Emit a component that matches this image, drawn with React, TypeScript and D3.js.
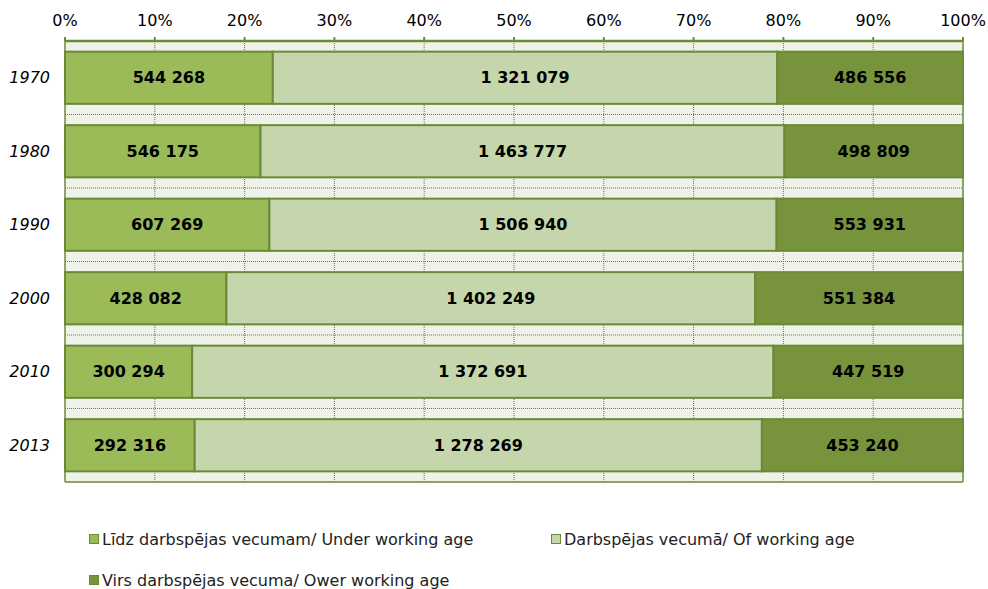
import React from "react";
import * as d3 from "d3";

// Chart data
const years = ["1970", "1980", "1990", "2000", "2010", "2013"];
const underAge = [544268, 546175, 607269, 428082, 300294, 292316];
const workingAge = [1321079, 1463777, 1506940, 1402249, 1372691, 1278269];
const overAge = [486556, 498809, 553931, 551384, 447519, 453240];
const seriesNames = [
  "Līdz darbspējas vecumam/ Under working age",
  "Darbspējas vecumā/ Of working age",
  "Virs darbspējas vecuma/ Ower working age",
];
const seriesColors = ["#9bbb59", "#c5d6ac", "#77933c"];
const tickValues = [0, 0.1, 0.2, 0.3, 0.4, 0.5, 0.6, 0.7, 0.8, 0.9, 1];

const width = 988;
const height = 589;
const margin = { top: 41, right: 25, bottom: 107, left: 65 };
const font = "'DejaVu Sans', Verdana, sans-serif";
const edge = "#6b8a37";

const fmt = (v: number) => d3.format(",")(v).replace(/,/g, " ");

const App: React.FC = () => {
  const plotW = width - margin.left - margin.right;
  const plotH = height - margin.top - margin.bottom;

  const x = d3.scaleLinear().domain([0, 1]).range([0, plotW]);
  const y = d3.scaleBand<string>().domain(years).range([0, plotH]).paddingInner(0.29).paddingOuter(0.145);
  const band = d3.scaleBand<string>().domain(years).range([0, plotH]);

  const rows = years.map((yr, i) => {
    const vals = [underAge[i], workingAge[i], overAge[i]];
    const total = d3.sum(vals);
    let acc = 0;
    const segs = vals.map((v, k) => {
      const x0 = acc / total;
      acc += v;
      return { k, v, x0, x1: acc / total };
    });
    return { yr, segs };
  });

  return (
    <svg width={width} height={height} style={{ position: "absolute", left: 0, top: 0, fontFamily: font }}>
      <g transform={`translate(${margin.left},${margin.top})`}>
        <rect x={0} y={0} width={plotW} height={plotH} fill="#eef2e8" />
        {/* vertical gridlines */}
        {tickValues.slice(1, -1).map((t) => (
          <line key={t} x1={x(t)} x2={x(t)} y1={0} y2={plotH} stroke="#6b7a55" strokeWidth={1} strokeDasharray="1,1" />
        ))}
        {/* horizontal gridlines at band boundaries */}
        {years.slice(1).map((yr) => (
          <line key={yr} x1={0} x2={plotW} y1={band(yr)!} y2={band(yr)!} stroke="#6b7a55" strokeWidth={1} strokeDasharray="1,1" />
        ))}
        {rows.map((r) => (
          <g key={r.yr}>
            {r.segs.map((s) => (
              <rect
                key={s.k}
                x={x(s.x0)}
                y={y(r.yr)!}
                width={x(s.x1) - x(s.x0)}
                height={y.bandwidth()}
                fill={seriesColors[s.k]}
                stroke={edge}
                strokeWidth={2}
              />
            ))}
            {r.segs.map((s) => (
              <text
                key={"t" + s.k}
                x={(x(s.x0) + x(s.x1)) / 2}
                y={y(r.yr)! + y.bandwidth() / 2}
                dy="0.35em"
                textAnchor="middle"
                fontSize={16}
                fontWeight="bold"
                fill="#000"
              >
                {fmt(s.v)}
              </text>
            ))}
            <text
              x={-15}
              y={y(r.yr)! + y.bandwidth() / 2}
              dy="0.35em"
              textAnchor="end"
              fontSize={16}
              fontStyle="italic"
              fill="#000"
            >
              {r.yr}
            </text>
          </g>
        ))}
        {/* plot border */}
        <line x1={0} x2={0} y1={0} y2={plotH} stroke={edge} strokeWidth={1.5} />
        <line x1={plotW} x2={plotW} y1={0} y2={plotH} stroke={edge} strokeWidth={1.5} />
        <line x1={0} x2={plotW} y1={plotH} y2={plotH} stroke={edge} strokeWidth={1.5} />
        {/* top axis */}
        <line x1={0} x2={plotW} y1={0} y2={0} stroke={edge} strokeWidth={2.5} />
        {tickValues.map((t) => (
          <g key={t}>
            <line x1={x(t)} x2={x(t)} y1={-4} y2={0} stroke={edge} strokeWidth={2} />
            <text x={x(t)} y={-21} textAnchor="middle" dy="0.35em" fontSize={16} fill="#000">
              {d3.format(".0%")(t)}
            </text>
          </g>
        ))}
      </g>
      {/* legend */}
      {seriesNames.map((name, k) => {
        const lx = k === 1 ? 551 : 89;
        const ly = k === 2 ? 580 : 539;
        return (
          <g key={name} transform={`translate(${lx},${ly})`}>
            <rect x={0.5} y={-4.5} width={9} height={9} fill={seriesColors[k]} stroke={edge} strokeWidth={1} />
            <text x={13} y={0} dy="0.35em" fontSize={16} fill="#222">
              {name}
            </text>
          </g>
        );
      })}
    </svg>
  );
};

export default App;
